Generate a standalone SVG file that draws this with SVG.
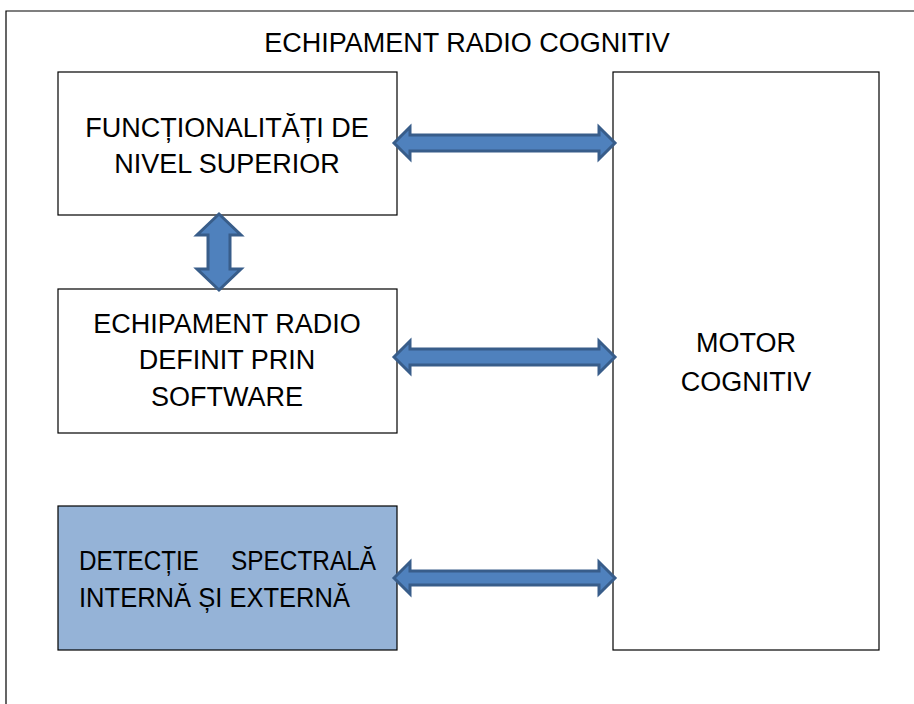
<svg xmlns="http://www.w3.org/2000/svg" width="914" height="704" viewBox="0 0 914 704">
<style>
.box{fill:#fff;stroke:#000;stroke-width:1.2}
.blue{fill:#95B3D7}
.t{font-family:"Liberation Sans",Arial,sans-serif;font-size:27px;fill:#000}
.arr{fill:#4F81BD;stroke:#385D8A;stroke-width:3;stroke-linejoin:miter}
</style>
<rect x="0" y="0" width="914" height="704" fill="#fff"/>
<path d="M6,704 V11 H914" fill="none" stroke="#000" stroke-width="1.2"/>
<text class="t" x="467" y="52" text-anchor="middle">ECHIPAMENT RADIO COGNITIV</text>
<g id="functionalitati">
<rect class="box" x="58" y="72" width="339" height="143"/>
<text class="t" x="227" y="137" text-anchor="middle">FUNCȚIONALITĂȚI DE</text>
<text class="t" x="227" y="173" text-anchor="middle">NIVEL SUPERIOR</text>
</g>
<g id="sdr">
<rect class="box" x="58" y="289" width="339" height="144"/>
<text class="t" x="227" y="333" text-anchor="middle">ECHIPAMENT RADIO</text>
<text class="t" x="227" y="369" text-anchor="middle">DEFINIT PRIN</text>
<text class="t" x="227" y="406" text-anchor="middle">SOFTWARE</text>
</g>
<g id="detectie">
<rect class="box blue" x="58" y="506" width="339" height="144"/>
<text class="t" x="79" y="570" textLength="120" lengthAdjust="spacingAndGlyphs">DETECȚIE</text>
<text class="t" x="231" y="570" textLength="145" lengthAdjust="spacingAndGlyphs">SPECTRALĂ</text>
<text class="t" x="79" y="607" textLength="271" lengthAdjust="spacingAndGlyphs">INTERNĂ ȘI EXTERNĂ</text>
</g>
<g id="motor">
<rect class="box" x="613" y="72" width="266" height="578"/>
<text class="t" x="746" y="352" text-anchor="middle">MOTOR</text>
<text class="t" x="746" y="391" text-anchor="middle">COGNITIV</text>
</g>
<g id="connectors">
<path class="arr" d="M394,143 L410,127 L410,135 L599,135 L599,127 L615,143 L599,159 L599,151 L410,151 L410,159 Z"/>
<path class="arr" d="M394,357 L410,341 L410,349 L599,349 L599,341 L615,357 L599,373 L599,365 L410,365 L410,373 Z"/>
<path class="arr" d="M394,578 L410,562 L410,571 L599,571 L599,562 L615,578 L599,594 L599,585 L410,585 L410,594 Z"/>
<path class="arr" d="M219,214 L241,235 L230,235 L230,269 L241,269 L219,290 L197,269 L208,269 L208,235 L197,235 Z"/>
</g>
</svg>
